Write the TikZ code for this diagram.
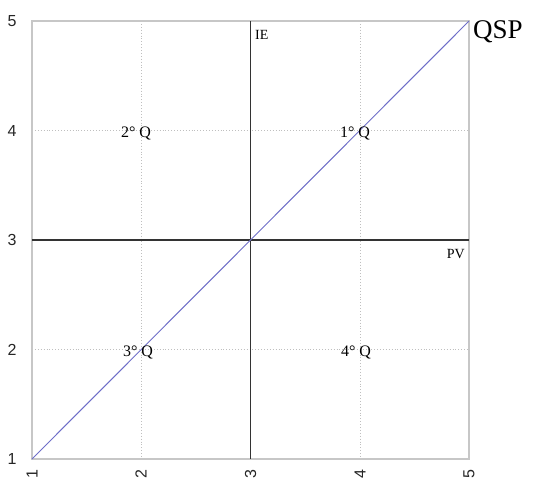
\documentclass[tikz,border=0pt]{standalone}
\usepackage{fontspec}
\setmainfont{Liberation Serif}
\newfontfamily\ticksans{Liberation Sans}
\begin{document}
\begin{tikzpicture}[x=1pt,y=-1pt,
  frameline/.style={draw=black!22,line width=2.2pt},
  gridline/.style={draw=black!25,line width=0.9pt,dotted},
  axisline/.style={draw=black!80,line width=1.7pt},
  diagline/.style={line width=1pt,draw={rgb,255:red,110;green,110;blue,200}},
  ticklab/.style={font=\ticksans\fontsize{16}{16}\selectfont,text=black!85,inner sep=0pt},
  qlab/.style={font=\fontsize{16}{16}\selectfont,inner sep=0pt},
  axlab/.style={font=\fontsize{14}{14}\selectfont,inner sep=0pt}]
\useasboundingbox (0,0) rectangle (545,480);
\begin{scope}
\clip (0,0) rectangle (545,480);
% coordinates
\coordinate (x1) at (32,459);
\coordinate (x5) at (469,21);
\coordinate (g2t) at (141,21);
\coordinate (g2b) at (141,459);
\coordinate (g4t) at (360,21);
\coordinate (g4b) at (360,459);
\coordinate (h4l) at (32,130.5);
\coordinate (h4r) at (469,130.5);
\coordinate (h2l) at (32,349.5);
\coordinate (h2r) at (469,349.5);
\coordinate (vt) at (250.5,21);
\coordinate (vb) at (250.5,459);
\coordinate (hl) at (32,240);
\coordinate (hr) at (469,240);
% grid
\draw[gridline] (g2t) -- (g2b);
\draw[gridline] (g4t) -- (g4b);
\draw[gridline] (h4l) -- (h4r);
\draw[gridline] (h2l) -- (h2r);
% frame
\draw[frameline] (x1) rectangle (x5);
% axes
\draw[axisline] (vt) -- (vb);
\draw[axisline] (hl) -- (hr);
% diagonal
\draw[diagline] (x1) -- (x5);
% y tick labels
\node[ticklab] (y5) at (12,21) {5};
\node[ticklab] (y4) at (12,130.5) {4};
\node[ticklab] (y3) at (12,240) {3};
\node[ticklab] (y2) at (12,349.5) {2};
\node[ticklab] (y1) at (12,459) {1};
% x tick labels (rotated)
\node[ticklab,rotate=90,anchor=east] (t1) at (32,469) {1};
\node[ticklab,rotate=90,anchor=east] (t2) at (141,469) {2};
\node[ticklab,rotate=90,anchor=east] (t3) at (250.5,469) {3};
\node[ticklab,rotate=90,anchor=east] (t4) at (360,469) {4};
\node[ticklab,rotate=90,anchor=east] (t5) at (469,469) {5};
% labels
\node[axlab,anchor=north west] (ie) at (255,30) {IE};
\node[axlab,anchor=north east] (pv) at (465,249) {PV};
\node[font=\fontsize{27}{27}\selectfont,inner sep=0pt,anchor=west] (qsp) at (473,32) {QSP};
\node[qlab] (q1) at (355,133) {1° Q};
\node[qlab] (q2) at (136,133) {2° Q};
\node[qlab] (q3) at (138,352) {3° Q};
\node[qlab] (q4) at (356,352) {4° Q};
\end{scope}
\end{tikzpicture}
\end{document}
